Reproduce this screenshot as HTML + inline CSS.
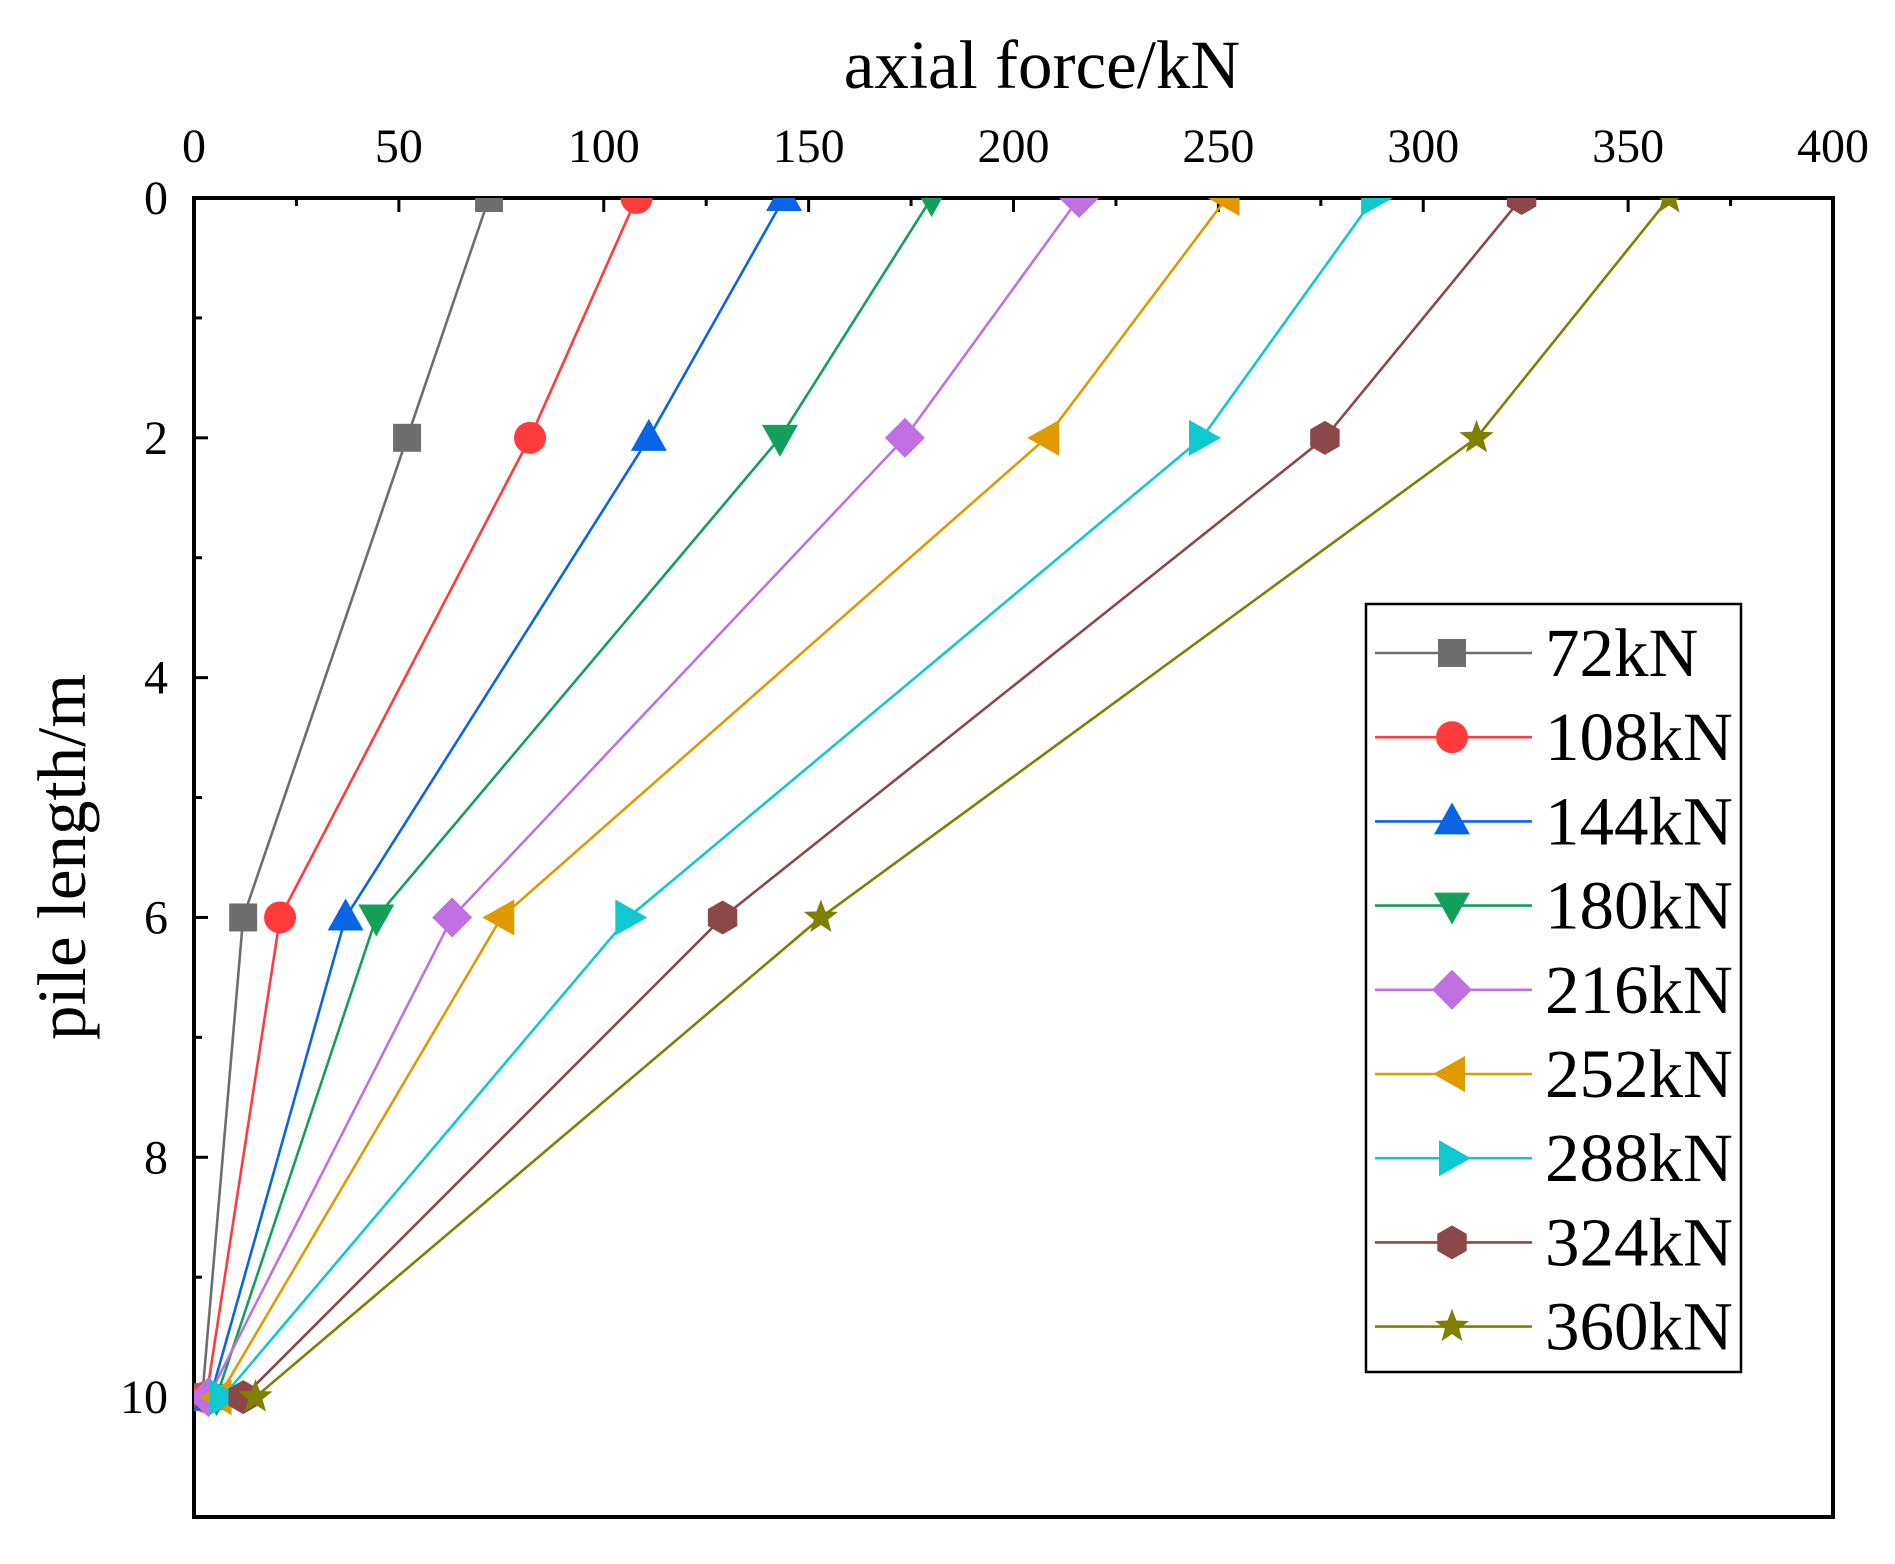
<!DOCTYPE html>
<html><head><meta charset="utf-8"><style>
html,body{margin:0;padding:0;background:#fff;}
svg{display:block;font-family:"Liberation Serif",serif;}
</style></head><body>
<svg id="s" width="1895" height="1564" viewBox="0 0 1895 1564" xmlns="http://www.w3.org/2000/svg"></svg>
<script>
const S=document.getElementById('s');
const L=194,R=1833,T=198,B=1517;
const X=v=>L+v*(R-L)/400, Y=v=>T+v*(B-T)/11;
let h='';
h+=`<rect x="${L}" y="${T}" width="${R-L}" height="${B-T}" fill="none" stroke="#000" stroke-width="4"/>`;
for(let v=0;v<=400;v+=25){const x=X(v),len=v%50==0?14:8;h+=`<line x1="${x}" y1="${T}" x2="${x}" y2="${T+len}" stroke="#000" stroke-width="3"/>`;
 if(v%50==0)h+=`<text x="${x}" y="${T-36}" font-size="48" text-anchor="middle">${v}</text>`;}
for(let v=0;v<=11;v++){const y=Y(v),len=v%2==0?14:8;h+=`<line x1="${L}" y1="${y}" x2="${L+len}" y2="${y}" stroke="#000" stroke-width="3"/>`;
 if(v%2==0&&v<=10)h+=`<text x="${L-26}" y="${y+16}" font-size="48" text-anchor="end">${v}</text>`;}
h+=`<text x="1042" y="88" font-size="69" text-anchor="middle">axial force/kN</text>`;
h+=`<text transform="translate(85,857) rotate(-90)" font-size="69" text-anchor="middle">pile length/m</text>`;
const ser=[
['72kN','#6e6e6e','sq',[72,52,12,2]],
['108kN','#ff3b3b','ci',[108,82,21,3]],
['144kN','#0a64e6','tu',[144,111,37,4]],
['180kN','#12a05a','td',[180,143,44.5,5.5]],
['216kN','#c070e0','di',[216,173.5,63,3.5]],
['252kN','#e09a00','tl',[252,208,75,6]],
['288kN','#10c8d0','tr',[288,246,106,7]],
['324kN','#8c4848','hx',[324,276,129,12]],
['360kN','#808000','st',[360,313,153,15]]];
const ys=[0,2,6,10];
function mk(t,x,y,c){const r=16;
 switch(t){
 case'sq':return `<rect x="${x-14}" y="${y-14}" width="28" height="28" fill="${c}"/>`;
 case'ci':return `<circle cx="${x}" cy="${y}" r="${r}" fill="${c}"/>`;
 case'tu':return `<polygon points="${x},${y-19} ${x-18},${y+13} ${x+18},${y+13}" fill="${c}"/>`;
 case'td':return `<polygon points="${x},${y+19} ${x-18},${y-13} ${x+18},${y-13}" fill="${c}"/>`;
 case'di':return `<polygon points="${x},${y-20} ${x+20},${y} ${x},${y+20} ${x-20},${y}" fill="${c}"/>`;
 case'tl':return `<polygon points="${x-19},${y} ${x+13},${y-18} ${x+13},${y+18}" fill="${c}"/>`;
 case'tr':return `<polygon points="${x+19},${y} ${x-13},${y-18} ${x-13},${y+18}" fill="${c}"/>`;
 case'hx':{let p=[];for(let i=0;i<6;i++){const a=Math.PI/3*i+Math.PI/2;p.push((x+17*Math.cos(a))+','+(y+17*Math.sin(a)));}return `<polygon points="${p.join(' ')}" fill="${c}"/>`;}
 case'st':{let p=[];for(let i=0;i<10;i++){const a=Math.PI/5*i-Math.PI/2,rr=i%2?7.5:18;p.push((x+rr*Math.cos(a))+','+(y+rr*Math.sin(a)));}return `<polygon points="${p.join(' ')}" fill="${c}"/>`;}
 }}
h+=`<defs><clipPath id="cp"><rect x="${L}" y="${T}" width="${R-L}" height="${B-T}"/></clipPath></defs><g clip-path="url(#cp)">`;
ser.forEach(s=>{const pts=s[3].map((v,i)=>X(v)+','+Y(ys[i])).join(' ');
 h+=`<polyline points="${pts}" fill="none" stroke="${s[1]}" stroke-width="2.6"/>`;
 s[3].forEach((v,i)=>h+=mk(s[2],X(v),Y(ys[i]),s[1]));});
h+='</g>';
h+=`<rect x="1366" y="604" width="375" height="768" fill="#fff" stroke="#000" stroke-width="2.5"/>`;
ser.forEach((s,i)=>{const y=653+i*84.2;
 h+=`<line x1="1375" y1="${y}" x2="1532" y2="${y}" stroke="${s[1]}" stroke-width="2.6"/>`+mk(s[2],1452,y,s[1]);
 h+=`<text x="1545" y="${y+23}" font-size="69">${s[0]}</text>`;});
S.innerHTML=h;
</script>
</body></html>
